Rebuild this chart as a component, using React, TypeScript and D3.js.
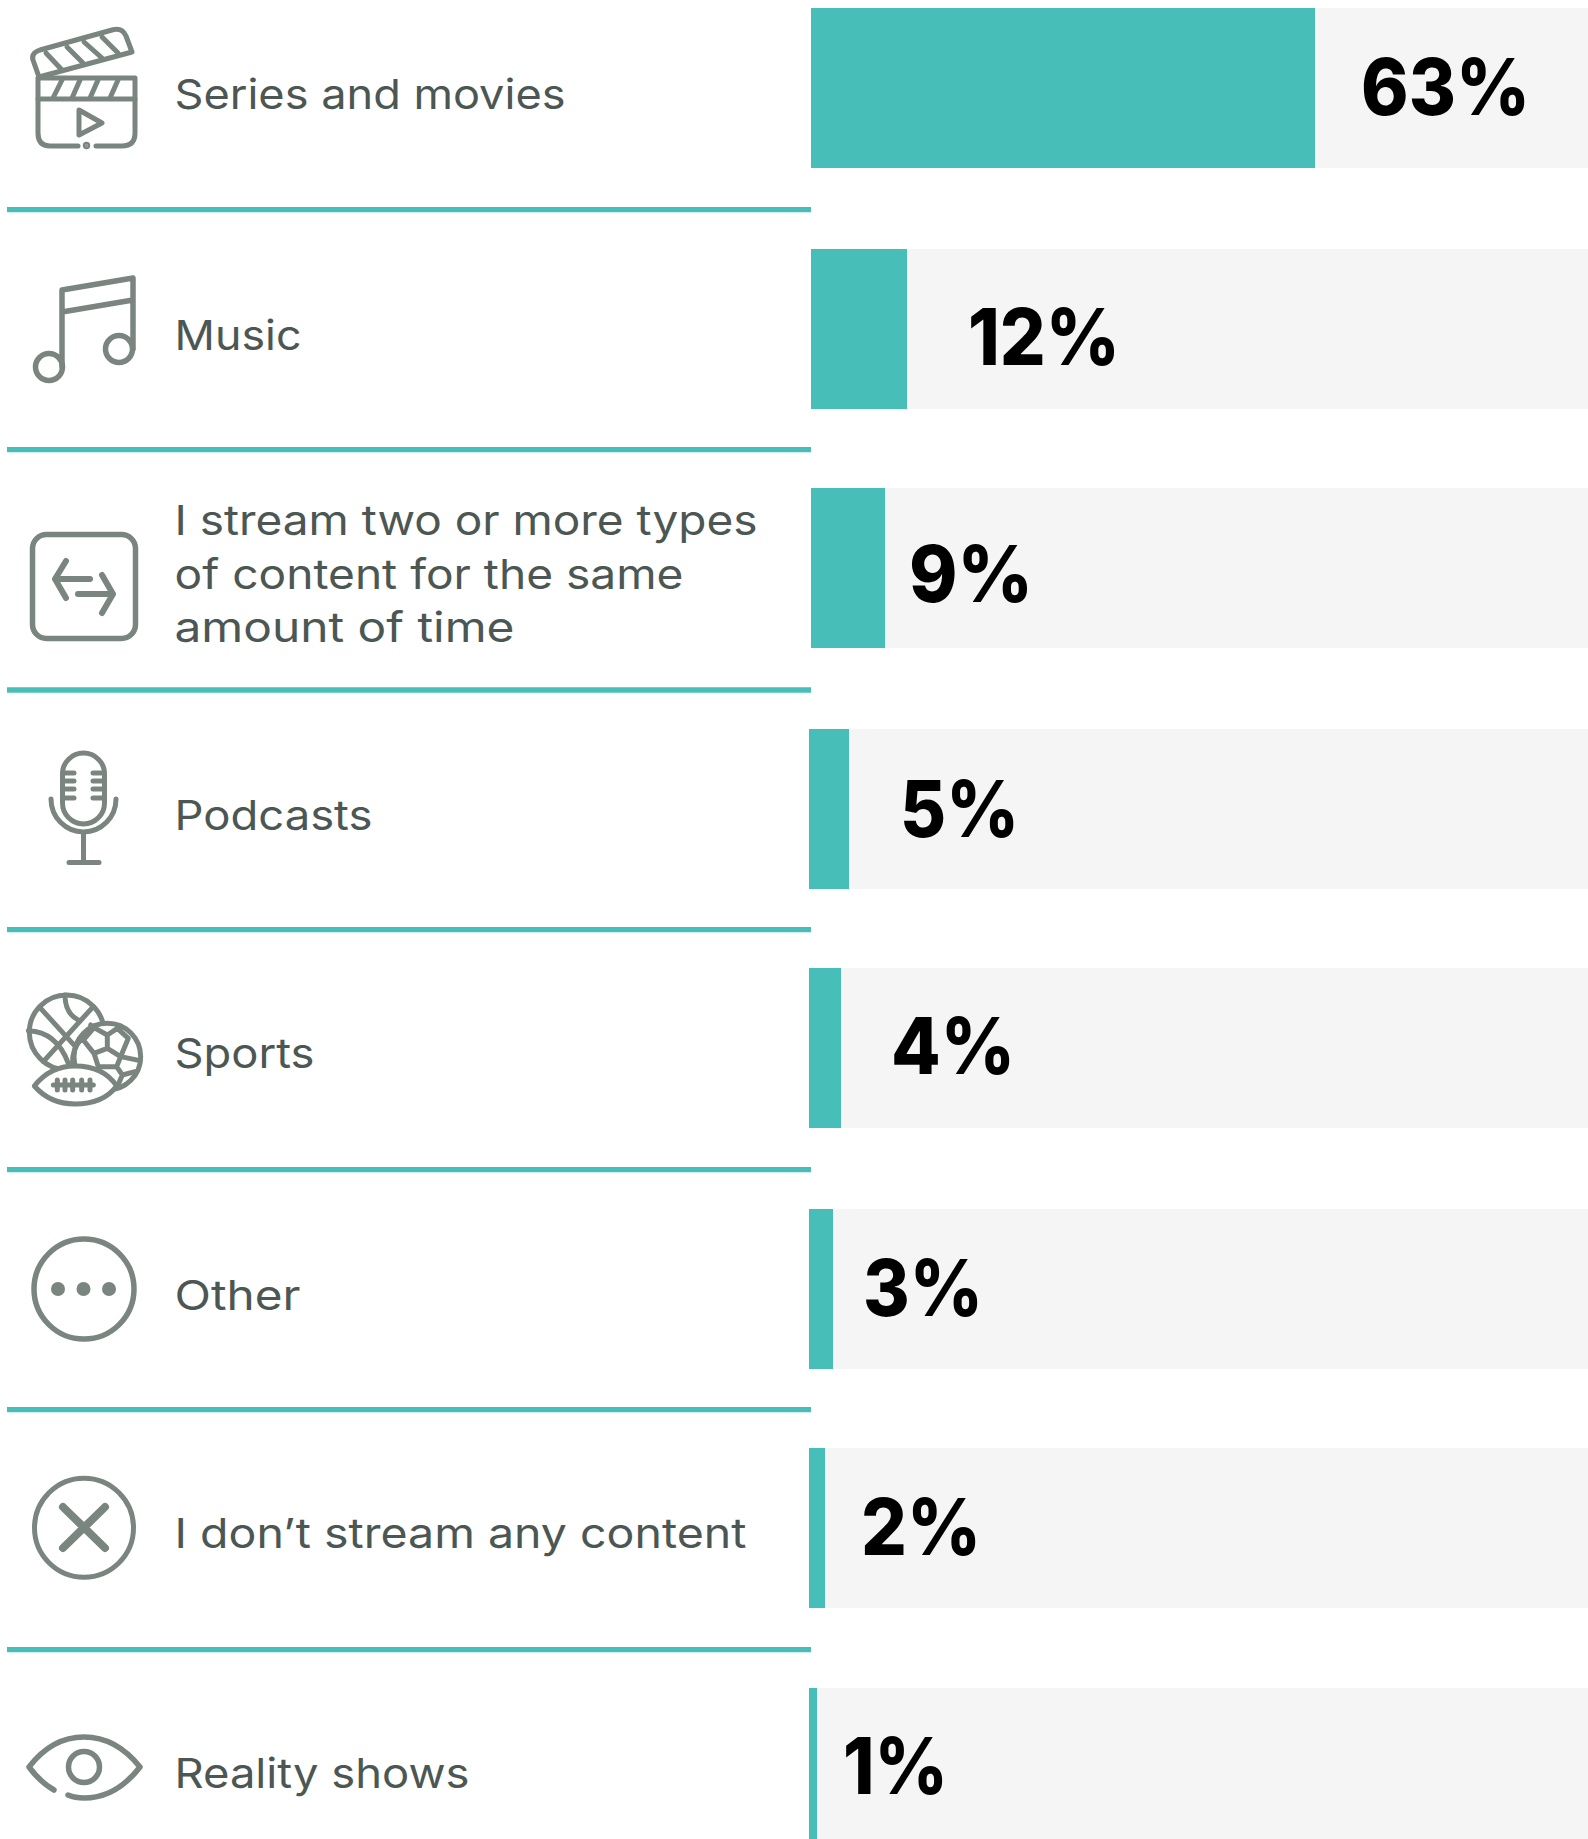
import React from "react";
import * as d3 from "d3";

const categories = ["Series and movies", "Music", "I stream two or more types|of content for the same|amount of time", "Podcasts", "Sports", "Other", "I don’t stream any content", "Reality shows"];
const shares = [63, 12, 9.25, 5, 4, 3, 2, 1];
const shareLabels = ["63%", "12%", "9%", "5%", "4%", "3%", "2%", "1%"];
const iconKeys = ["clapper", "music", "swap", "mic", "sports", "other", "cross", "eye"];

const TEAL = "#47bfb8";
const TRACK = "#f5f5f5";
const ICON = "#7a857f";
const TEXT = "#4c5754";
const W = 1588, H = 1839;

const labelFont = "Inter, 'Open Sans', sans-serif";
const barLeft = [811, 811, 811, 809, 809, 809, 809, 809];
const barTop = [8, 249, 488, 729, 968, 1209, 1448, 1688];
const labelBaseline = [[108.5], [349.5], [535, 588.5, 642], [829.5], [1067.5], [1310], [1548], [1788]];
const labelWidth = [[391], [127], [583], [198], [140], [126], [572], [295]];
const labelWidth3 = [583, 509, 340];
const pctX = [1361, 968, 909, 900, 891, 863, 861, 843];
const pctBaseline = [115, 365, 602, 837, 1074, 1316, 1555, 1794];
const pctWidth = [169, 152, 124, 119, 124, 120, 120, 105];
const ruleY = [209.7, 449.7, 690, 929.7, 1169.7, 1409.7, 1649.7];

const stroke = { fill: "none", stroke: ICON, strokeWidth: 5, strokeLinecap: "round", strokeLinejoin: "round" } as const;

function Icon({ kind }: { kind: string }) {
  switch (kind) {
    case "clapper":
      return (
        <g {...stroke}>
          <path d="M39,77 L33,60 Q31,53 40,50 L112,30 Q122,27 126,36 L132,52 Z" />
          <path d="M46,53 L62,70 M67,47 L83,63 M84,42 L102,58 M102,37 L118,53" />
          <path d="M38,78 H135 V133 Q135,146 122,146 H96 M78,146 H50 Q38,146 38,133 V78" />
          <path d="M38,99 H135 M62,80 L53,98 M80,80 L72,98 M98,80 L90,98 M118,80 L110,98" />
          <path d="M79,110 L102,123 L79,135 Z" />
          <circle cx={86.5} cy={145.5} r={1.2} fill={ICON} />
        </g>
      );
    case "music":
      return (
        <g {...stroke} strokeWidth={5.5}>
          <path d="M62,367 V290 L133,278 V349 M62,312 L133,300" />
          <circle cx={49} cy={367} r={13.5} />
          <circle cx={119} cy={349} r={13.5} />
        </g>
      );
    case "swap":
      return (
        <g {...stroke} strokeWidth={5.5}>
          <rect x={32.5} y={534.5} width={103} height={104} rx={14} />
          <path d="M90,579 H55 M66,561 L55,579 L66,598" strokeWidth={6} />
          <path d="M78,594 H113 M102,575 L113,594 L102,613" strokeWidth={6} />
        </g>
      );
    case "mic":
      return (
        <g {...stroke}>
          <rect x={62.5} y={753} width={42} height={71} rx={21} />
          <path d="M51,799 A32.5,33 0 0 0 116,799 M83.5,832 V862 M69,862.5 H99" />
          <path d="M64,773 H74 M64,781 H74 M64,789 H74 M64,798 H74 M93,773 H103 M93,781 H103 M93,789 H103 M93,798 H103" />
        </g>
      );
    case "sports":
      return (
        <g {...stroke} strokeWidth={15} transform="translate(0,960) scale(0.3333)">
          <circle cx={200} cy={217} r={112} />
          <path d="M122,145 L240,275 M275,145 L130,305 M195,105 Q195,160 235,180 M85,212 Q170,215 205,310" />
          <circle cx={322} cy={290} r={100} fill="#fff" />
          <path d="M250,240 L282,203 L322,225 L322,265 L282,280 Z M322,265 L362,290 L350,320 L295,320 L282,280 M282,203 L272,195 M322,225 L352,205 L385,235 L362,290 M362,290 L420,302 M350,320 L367,345 L405,335 M367,345 L350,385 M245,235 Q215,270 218,310" />
          <path d="M103,378 Q150,318 225,318 Q310,318 350,378 Q310,432 225,432 Q150,432 103,378 Z" fill="#fff" />
          <path d="M160,375 H280 M172,360 V390 M195,360 V390 M218,360 V390 M245,360 V390 M270,360 V390" />
        </g>
      );
    case "other":
      return (
        <g {...stroke} strokeWidth={5.5}>
          <circle cx={84} cy={1289} r={50} />
          <circle cx={58} cy={1289} r={7} fill={ICON} stroke="none" />
          <circle cx={83.5} cy={1289} r={7} fill={ICON} stroke="none" />
          <circle cx={109} cy={1289} r={7} fill={ICON} stroke="none" />
        </g>
      );
    case "cross":
      return (
        <g {...stroke}>
          <circle cx={84} cy={1527.7} r={49.5} />
          <path d="M63,1507 L105,1548 M105,1507 L63,1548" strokeWidth={8} />
        </g>
      );
    default:
      return (
        <g {...stroke} strokeWidth={5.5}>
          <path d="M54,1790 Q40,1782 29,1767 Q52,1737 84,1737 Q116,1737 140,1767 Q116,1798 84,1798 Q75,1798 68,1795" />
          <circle cx={84} cy={1767} r={15.5} />
        </g>
      );
  }
}

export default function App() {
  const bandH = 160;
  const x = d3.scaleLinear().domain([0, 100]).range([0, 800]);
  return (
    <svg width={W} height={H} viewBox={`0 0 ${W} ${H}`} style={{ position: "absolute", left: 0, top: 0, background: "#fff", display: "block" }}>
      {categories.map((c, i) => (
        <g key={c}>
          <rect x={barLeft[i]} y={barTop[i]} width={W - barLeft[i]} height={bandH} fill={TRACK} />
          <rect x={barLeft[i]} y={barTop[i]} width={x(shares[i])} height={bandH} fill={TEAL} />
          <Icon kind={iconKeys[i]} />
          {c.split("|").map((line, j) => (
            <text key={j} x={174.5} y={labelBaseline[i][j]} fontFamily={labelFont} fontSize={41} fontWeight={430} fill={TEXT}
              textLength={i === 2 ? labelWidth3[j] : labelWidth[i][0]} lengthAdjust="spacingAndGlyphs">{line}</text>
          ))}
          <text x={pctX[i]} y={pctBaseline[i]} fontFamily={labelFont} fontSize={78} fontWeight={800} fill="#000" textLength={pctWidth[i]} lengthAdjust="spacingAndGlyphs">{shareLabels[i]}</text>
        </g>
      ))}
      {ruleY.map((r) => (
        <line key={r} x1={7} x2={811} y1={r} y2={r} stroke={TEAL} strokeWidth={5.3} />
      ))}
    </svg>
  );
}
